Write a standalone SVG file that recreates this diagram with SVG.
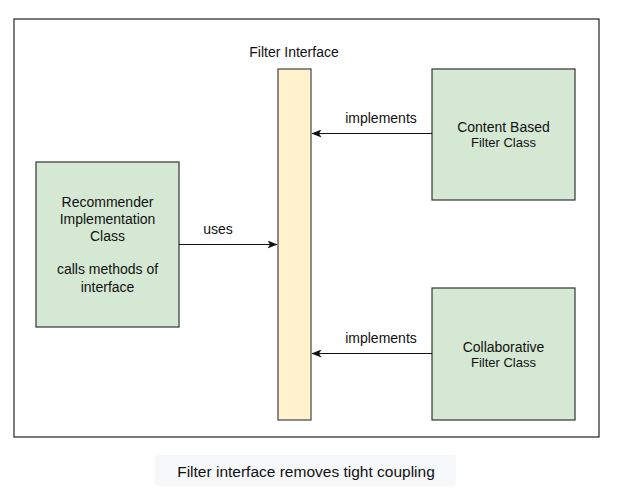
<svg xmlns="http://www.w3.org/2000/svg" width="638" height="496" viewBox="0 0 638 496">
<style>
text{font-family:"Liberation Sans",Arial,sans-serif;fill:#111;text-anchor:middle}
.cls{fill:#d5e8d4;stroke:#333;stroke-width:1.2}
.iface{fill:#fff2cc;stroke:#444;stroke-width:1.2}
.edge{stroke:#111;stroke-width:1.2;fill:none;marker-end:url(#arr)}
.t14{font-size:14px}
.t13{font-size:13px}
</style>
<defs>
<marker id="arr" viewBox="0 0 10 8" refX="9.5" refY="4" markerWidth="10" markerHeight="8" markerUnits="userSpaceOnUse" orient="auto">
<path d="M0,0 L10,4 L0,8 L2.5,4 Z" fill="#111"/>
</marker>
</defs>
<rect width="638" height="496" fill="#fff"/>
<rect id="frame" x="14" y="19" width="585" height="418" fill="#fff" stroke="#222" stroke-width="1.2"/>
<g id="filter-interface">
<rect class="iface" x="278" y="69" width="33" height="351"/>
<text class="t14" x="294" y="57">Filter Interface</text>
</g>
<g id="content-based">
<rect class="cls" x="432" y="69" width="143" height="131"/>
<text class="t14" x="503.5" y="132">Content Based</text>
<text class="t13" x="503.5" y="147">Filter Class</text>
</g>
<g id="collaborative">
<rect class="cls" x="432" y="288" width="143" height="132"/>
<text class="t14" x="503.5" y="352">Collaborative</text>
<text class="t13" x="503.5" y="367">Filter Class</text>
</g>
<g id="recommender">
<rect class="cls" x="36" y="162" width="143" height="165"/>
<text class="t14" x="107.5" y="207">Recommender</text>
<text class="t14" x="107.5" y="224">Implementation</text>
<text class="t14" x="107.5" y="241">Class</text>
<text class="t14" x="107.5" y="274">calls methods of</text>
<text class="t14" x="107.5" y="292">interface</text>
</g>
<g id="connectors">
<path class="edge" d="M432,133.5 L312,133.5"/>
<text class="t14" x="381" y="123">implements</text>
<path class="edge" d="M432,353.5 L312,353.5"/>
<text class="t14" x="381" y="343">implements</text>
<path class="edge" d="M179,244.5 L277,244.5"/>
<text class="t14" x="218" y="234">uses</text>
</g>
<g id="caption">
<rect x="154" y="455" width="302" height="31" rx="4" fill="#f7f8fa"/>
<text x="306" y="476.5" style="font-size:15.5px">Filter interface removes tight coupling</text>
</g>
</svg>
